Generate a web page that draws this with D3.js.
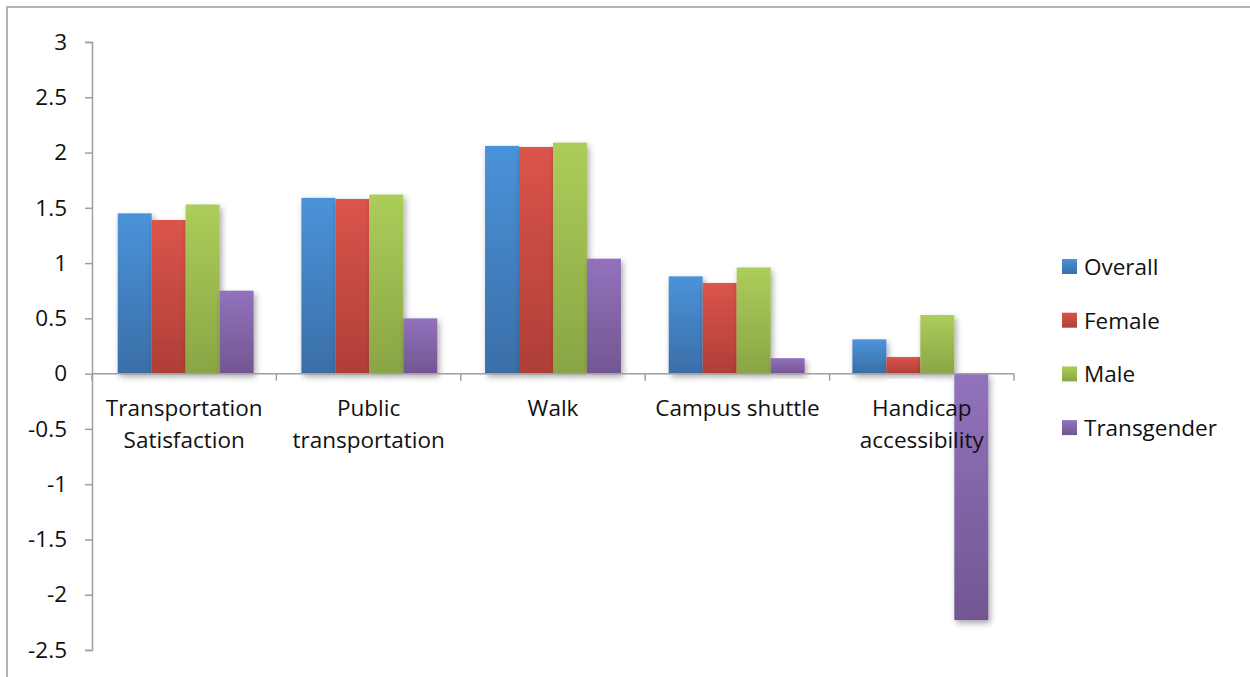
<!DOCTYPE html>
<html>
<head>
<meta charset="utf-8">
<script src="https://cdn.jsdelivr.net/npm/d3@7"></script>
<style>
  html, body { margin: 0; padding: 0; background: #fff; }
  svg { display: block; }
  text { font-family: "Open Sans", "Noto Sans", sans-serif; fill: #111; }
</style>
</head>
<body>
<svg id="chart" width="1250" height="677"></svg>
<script>
// Survey scores by transportation topic and gender group
const categories = [
  ["Transportation", "Satisfaction"],
  ["Public", "transportation"],
  ["Walk"],
  ["Campus shuttle"],
  ["Handicap", "accessibility"]
];
const seriesNames = ["Overall", "Female", "Male", "Transgender"];
const overall     = [1.45, 1.59, 2.06, 0.88, 0.31];
const female      = [1.39, 1.58, 2.05, 0.82, 0.15];
const male        = [1.53, 1.62, 2.09, 0.96, 0.53];
const transgender = [0.75, 0.50, 1.04, 0.14, -2.23];
const yTicks = [3, 2.5, 2, 1.5, 1, 0.5, 0, -0.5, -1, -1.5, -2, -2.5];

const seriesValues = [overall, female, male, transgender];
const colorsTop    = ["#4a93da", "#db544b", "#accd5a", "#9272bc"];
const colorsBottom = ["#3a6ea7", "#ae3f37", "#8aa545", "#725692"];

const FONT_SIZE = 22.5;

const svg = d3.select("#chart");
const defs = svg.append("defs");

// Vertical gradients per series (lighter top, darker bottom)
seriesNames.forEach((n, i) => {
  const g = defs.append("linearGradient")
    .attr("id", "grad" + i)
    .attr("x1", 0).attr("y1", 0).attr("x2", 0).attr("y2", 1);
  g.append("stop").attr("offset", "0%").attr("stop-color", colorsTop[i]);
  g.append("stop").attr("offset", "100%").attr("stop-color", colorsBottom[i]);
});

// Soft drop shadow under bars
const f = defs.append("filter").attr("id", "shadow")
  .attr("x", "-20%").attr("y", "-20%").attr("width", "150%").attr("height", "150%");
f.append("feGaussianBlur").attr("in", "SourceAlpha").attr("stdDeviation", 3).attr("result", "b");
f.append("feOffset").attr("in", "b").attr("dx", 2).attr("dy", 3).attr("result", "o");
f.append("feComponentTransfer").attr("in", "o").attr("result", "s")
  .append("feFuncA").attr("type", "linear").attr("slope", 0.35);
const m = f.append("feMerge");
m.append("feMergeNode").attr("in", "s");
m.append("feMergeNode").attr("in", "SourceGraphic");

// Outer chart frame
svg.append("rect")
  .attr("x", 7).attr("y", 7).attr("width", 1260).attr("height", 690)
  .attr("fill", "none").attr("stroke", "#999").attr("stroke-width", 1.5);

const plot = { left: 92, right: 1014, top: 42, bottom: 650 };

const y = d3.scaleLinear().domain([-2.5, 3]).range([plot.bottom, plot.top]);
const x0 = d3.scaleBand().domain(d3.range(categories.length))
  .range([plot.left, plot.right]).paddingInner(0.26).paddingOuter(0.14);
const x1 = d3.scaleBand().domain(d3.range(seriesNames.length))
  .range([0, x0.bandwidth()]);

// Bars
const groups = svg.append("g").selectAll("g")
  .data(categories.map((c, ci) => ci))
  .join("g")
  .attr("transform", ci => `translate(${x0(ci)},0)`);

groups.selectAll("rect")
  .data(ci => seriesValues.map((vals, si) => ({ si, v: vals[ci] })))
  .join("rect")
  .attr("x", d => x1(d.si))
  .attr("width", x1.bandwidth())
  .attr("y", d => y(Math.max(0, d.v)))
  .attr("height", d => Math.abs(y(d.v) - y(0)))
  .attr("fill", d => `url(#grad${d.si})`)
  .attr("filter", "url(#shadow)");

// Y axis
const yAxis = d3.axisLeft(y).tickValues(yTicks).tickSize(7).tickPadding(18)
  .tickFormat(d => String(d));
const ya = svg.append("g").attr("transform", `translate(${plot.left},0)`).call(yAxis);
ya.select(".domain").attr("stroke", "#a0a0a0").attr("stroke-width", 1.5);
ya.selectAll(".tick line").attr("stroke", "#a0a0a0").attr("stroke-width", 1.5);
ya.selectAll(".tick text").attr("font-size", FONT_SIZE)
  .attr("font-family", "'Open Sans', sans-serif").attr("fill", "#111");

// X axis line at zero with ticks at category boundaries
const xLine = svg.append("g").attr("transform", `translate(0,${y(0)})`);
xLine.append("line")
  .attr("x1", plot.left).attr("x2", plot.right)
  .attr("stroke", "#a0a0a0").attr("stroke-width", 1.5);
const step = (plot.right - plot.left) / categories.length;
xLine.selectAll(".xt").data(d3.range(categories.length + 1)).join("line")
  .attr("x1", i => plot.left + i * step).attr("x2", i => plot.left + i * step)
  .attr("y1", 0).attr("y2", 7)
  .attr("stroke", "#a0a0a0").attr("stroke-width", 1.5);

// Category labels
const labels = svg.append("g").selectAll("text")
  .data(categories)
  .join("text")
  .attr("text-anchor", "middle")
  .attr("font-size", FONT_SIZE)
  .attr("x", (c, i) => plot.left + (i + 0.5) * step)
  .attr("y", 416);
labels.selectAll("tspan")
  .data(c => c)
  .join("tspan")
  .attr("x", function () { return d3.select(this.parentNode).attr("x"); })
  .attr("dy", (d, i) => i === 0 ? 0 : 32)
  .text(d => d);

// Legend
const legend = svg.append("g").attr("transform", "translate(1062,267)");
const li = legend.selectAll("g").data(seriesNames).join("g")
  .attr("transform", (d, i) => `translate(0,${i * 53.7})`);
li.append("rect").attr("x", 0).attr("y", -8).attr("width", 15).attr("height", 15)
  .attr("fill", (d, i) => `url(#grad${i})`);
li.append("text").attr("x", 22).attr("y", 0).attr("dy", "0.35em")
  .attr("font-size", FONT_SIZE).text(d => d);
</script>
</body>
</html>
